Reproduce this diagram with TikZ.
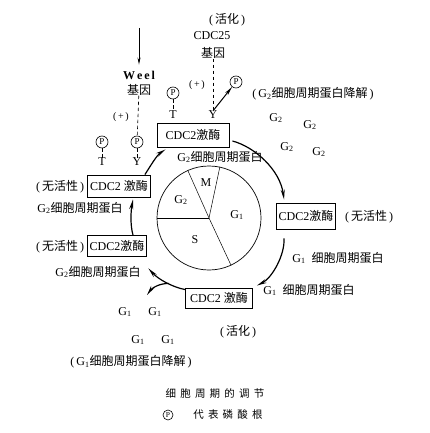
\documentclass[tikz,border=0pt]{standalone}
\usepackage{fontspec}
\setmainfont{Liberation Serif}
\newfontfamily\cjk{Noto Sans CJK SC}
\newfontfamily\cjkcap[LetterSpace=40]{Noto Sans CJK SC}
\newcommand\zh[1]{{\cjk #1}}
\usetikzlibrary{arrows.meta}
\begin{document}
\begin{tikzpicture}[x=1pt,y=-1pt,
  every node/.style={font=\fontsize{12}{14}\selectfont, inner sep=0pt},
  kbox/.style={draw, line width=0.9pt, inner sep=1pt},
  pcirc/.style={draw, circle, line width=0.6pt, minimum size=12pt, inner sep=0pt, font=\fontsize{9}{10}\selectfont},
  cyc/.style={line width=1.2pt, -{Stealth[length=10pt,width=4pt]}},
  dashln/.style={line width=0.6pt, dash pattern=on 3.5pt off 2.5pt},
  small/.style={font=\fontsize{10}{12}\selectfont},
]
\useasboundingbox (0,0) rectangle (430,433);

% cell cycle circle
\node[draw, circle, minimum size=104pt, line width=0.7pt] (cyc) at (209,218) {};
\draw[line width=0.5pt] (cyc.center) -- (cyc.114);
\draw[line width=0.5pt] (cyc.center) -- (cyc.78);
\draw[line width=0.5pt] (cyc.center) -- (cyc.180);
\draw[line width=0.5pt] (cyc.center) -- (cyc.295);
\node (lm) at (206,183) {M};
\node (lg2) at (181,200) {G\textsubscript{2}};
\node (lg1) at (237,215) {G\textsubscript{1}};
\node (ls) at (195,240) {S};

% top: CDC25 gene
\node (act1) at (227,20) {(\,\zh{活化}\,)};
\node (cdc25) at (212,36) {CDC25};
\node (gene25) at (213,53) {\zh{基因}};
\node (Ytop) at (213,115) {Y};
\node[pcirc] (Ptop2) at (236,82) {P};
\draw[dashln] (gene25) -- (Ytop);
\draw[line width=1pt, -{Stealth[length=9pt,width=3.5pt]}] (Ytop.north) -- (Ptop2);
\node[small] (plus1) at (197,85) {(\,+\,)};
\node[pcirc] (Ptop1) at (173,93) {P};
\node (Ttop) at (173,115) {T};
\draw[dashln] (Ptop1) -- (Ttop);

\node[kbox, minimum width=72pt, minimum height=24pt] (top) at (193,135) {CDC2\zh{激酶}};
\node (degr2) at (313,94) {(\,G\textsubscript{2}\zh{细胞周期蛋白降解}\,)};
\node (g2a) at (276,118) {G\textsubscript{2}};
\node (g2b) at (310,125) {G\textsubscript{2}};
\node (g2c) at (287,147) {G\textsubscript{2}};
\node (g2d) at (319,152) {G\textsubscript{2}};
\node (g2cyc) at (220,157) {G\textsubscript{2}\zh{细胞周期蛋白}};

% Weel gene
\coordinate (wtop) at (139,28);
\node (weel) at (139,75) {\textbf{W\,e\,e\,l}};
\node (wgene) at (139,90) {\zh{基因}};
\draw[line width=0.7pt, -{Stealth[length=7pt,width=3pt]}] (wtop) -- ([yshift=6pt]weel.north);
\node[small] (plus2) at (121,117) {(\,+\,)};
\node[pcirc] (Pl1) at (102,142) {P};
\node[pcirc] (Pl2) at (137,142) {P};
\node (Tl) at (102,162) {T};
\node (Yl) at (137,162) {Y};
\draw[dashln] (wgene) -- (Pl2);
\draw[dashln] (Pl1) -- (Tl);
\draw[dashln] (Pl2) -- (Yl);

% left boxes
\node[kbox, minimum width=63pt, minimum height=22pt] (upl) at (119,186) {CDC2 \zh{激酶}};
\node (inact1) at (60,187) {(\,\zh{无活性}\,)};
\node (g2l) at (80,208) {G\textsubscript{2}\zh{细胞周期蛋白}};
\node[kbox, minimum width=59pt, minimum height=21pt] (lowl) at (117,246) {CDC2\zh{激酶}};
\node (inact2) at (60,247) {(\,\zh{无活性}\,)};
\node (g2l2) at (98,272) {G\textsubscript{2}\zh{细胞周期蛋白}};

% right box
\node[kbox, minimum width=59pt, minimum height=26pt] (rt) at (306,216) {CDC2\zh{激酶}};
\node (inact3) at (369,217) {(\,\zh{无活性}\,)};
\node (g1r) at (338,258) {G\textsubscript{1}\ \ \zh{细胞周期蛋白}};
\node (g1r2) at (309,290) {G\textsubscript{1}\ \ \zh{细胞周期蛋白}};

% bottom box
\node[kbox, minimum width=67pt, minimum height=20pt] (bot) at (219,298) {CDC2 \zh{激酶}};
\node (act2) at (238,332) {(\,\zh{活化}\,)};
\node (g1a) at (125,312) {G\textsubscript{1}};
\node (g1b) at (155,312) {G\textsubscript{1}};
\node (g1c) at (138,340) {G\textsubscript{1}};
\node (g1d) at (168,340) {G\textsubscript{1}};
\node (degr1) at (131,362) {(\,G\textsubscript{1}\zh{细胞周期蛋白降解}\,)};
\coordinate (g1deg) at (147,295);

% cycle arrows
\draw[cyc] ([xshift=3pt,yshift=-6pt]top.east) .. controls (255,147) and (280,170) .. ([xshift=8pt,yshift=3pt]rt.north west);
\draw[cyc] ([xshift=-22pt,yshift=-9pt]rt.south) .. controls (285,255) and (272,278) .. ([xshift=4pt,yshift=2pt]bot.north east);
\draw[cyc] ([yshift=-2pt]bot.north west) .. controls (172,287) and (158,279) .. ([xshift=1.5pt,yshift=-11.5pt]lowl.south east);
\draw[cyc] ([xshift=-16pt,yshift=4pt]bot.north west) .. controls (160,283) and (152,288) .. (g1deg);
\draw[cyc] ([xshift=16pt]lowl.north) .. controls (130,225) and (131,210) .. ([xshift=14pt,yshift=-2pt]upl.south);
\draw[cyc] ([xshift=-6pt]upl.north east) .. controls (151,165) and (157,155) .. ([xshift=9pt,yshift=-2pt]top.south west);

% caption
\node[font=\fontsize{10.5}{12}\selectfont] (cap1) at (215,394) {\cjkcap 细胞周期的调节};
\node[pcirc, minimum size=10pt, font=\fontsize{7.5}{9}\selectfont] (capP) at (168,415) {P};
\node[font=\fontsize{10.5}{12}\selectfont] (cap2) at (228,415) {\cjkcap 代表磷酸根};
\end{tikzpicture}
\end{document}
